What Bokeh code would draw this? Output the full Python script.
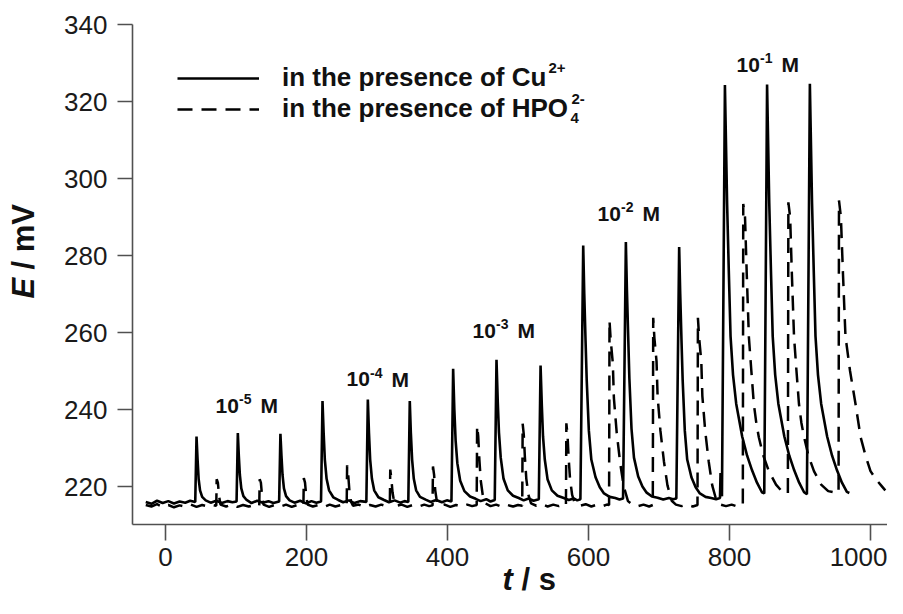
import math
from bokeh.plotting import figure
from bokeh.models import Range1d, FixedTicker, Legend, LegendItem, Label
from bokeh.embed import file_html
from bokeh.resources import INLINE
from bokeh.core.properties import value

FONT = "Liberation Sans"

# ---- data: t / s and E / mV ----
cu_t = [-28, -20, -12, -4, 4, 12, 20, 28, 35, 42.2,
        44, 45.5, 47, 49, 52, 57,
        64, 72, 80, 88, 95, 100.8,
        102.6, 104, 105.5, 107.5, 110.5, 115,
        122, 130, 138, 146, 153, 161.2,
        163, 164.5, 166, 168, 171, 176,
        183, 191, 199, 207, 214, 220.6,
        222.7, 224.3, 226, 228.5, 232, 238, 245,
        252, 260, 268, 276, 284.9,
        287, 288.6, 290.3, 292.8, 296, 302, 310,
        317, 325, 333, 339, 344.4,
        346.5, 348, 349.8, 352.2, 355.5, 361, 369,
        376, 384, 392, 399, 405.6,
        408, 409.7, 411.5, 414, 418, 424, 432, 440,
        447, 455, 461, 467,
        469.5, 471.3, 473, 475.5, 479.5, 485.5, 493, 501,
        508, 515, 522, 529.5,
        532, 533.8, 535.5, 538, 542, 548, 556, 565,
        572, 579, 584, 588.5,
        592.5, 594, 595.8, 597.5, 600.5, 604, 610, 616, 622, 630, 638, 644, 649,
        653, 654.5, 656.3, 658, 661, 664.5, 670.5, 676.5, 682.5, 690, 698, 706, 714, 720, 724.6,
        728.6, 730.1, 731.9, 733.6, 736.6, 740, 746, 752, 758, 766, 774, 781, 786.5, 787.3, 788.3, 789.3,
        793.5, 796.6, 799, 801.5, 805, 809.5, 818, 825, 832, 839, 846, 849.3,
        853.3, 856.4, 858.8, 861.3, 864.8, 869.3, 877.8, 884.8, 891.8, 898.8, 905.8, 909.8,
        914, 917.1, 919.5, 922, 925.5, 930, 938.5, 945.5, 952.5, 959.5, 966.5, 970]
cu_E = [216.0, 215.5, 216.3, 215.7, 216.2, 215.6, 216.1, 215.8, 216.3, 216.0,
        233.0, 227.0, 222.0, 219.0, 217.3, 216.4,
        215.8, 216.3, 215.7, 216.2, 215.9, 216.1,
        233.9, 228.0, 223.0, 219.5, 217.5, 216.5,
        215.7, 216.3, 215.8, 216.2, 215.7, 216.1,
        233.7, 228.0, 223.0, 219.5, 217.5, 216.4,
        215.8, 216.3, 215.6, 216.2, 215.8, 216.1,
        242.2, 234.0, 227.0, 222.0, 219.0, 217.2, 216.5,
        215.9, 216.4, 215.7, 216.2, 216.0,
        242.6, 234.0, 227.0, 222.0, 219.0, 217.2, 216.5,
        215.9, 216.4, 215.8, 216.2, 216.0,
        242.2, 234.0, 227.0, 222.0, 219.0, 217.3, 216.6,
        216.0, 216.5, 215.9, 216.4, 216.1,
        250.6, 240.0, 232.0, 226.0, 221.5, 218.8, 217.4, 216.8,
        216.2, 216.7, 216.1, 216.5,
        252.9, 242.0, 234.0, 227.5, 222.0, 219.0, 217.6, 217.0,
        216.4, 216.9, 216.3, 216.7,
        251.4, 241.0, 233.0, 227.0, 221.8, 219.0, 217.6, 217.0,
        216.5, 216.9, 216.4, 216.7,
        282.6, 270.0, 258.0, 247.5, 234.5, 227.0, 222.4, 219.8, 218.2, 217.3, 217.0, 216.6, 216.9,
        283.5, 271.0, 259.0, 248.0, 235.0, 227.5, 222.6, 220.0, 218.4, 217.4, 217.1, 216.6, 217.0, 216.7, 216.9,
        282.2, 270.0, 258.0, 247.5, 234.5, 227.0, 222.4, 219.8, 218.2, 217.3, 217.0, 216.7, 217.0, 223.5, 218.0, 217.5,
        324.3, 293.5, 276.0, 259.0, 249.0, 241.5, 233.0, 228.0, 224.2, 221.0, 218.5, 218.2,
        324.4, 293.5, 276.0, 259.0, 249.0, 241.5, 233.0, 228.0, 224.2, 221.0, 218.5, 218.0,
        324.6, 293.5, 276.0, 259.0, 249.0, 241.5, 233.0, 228.0, 224.2, 221.0, 218.6, 218.3]

hpo_t = [-28, -20, -12, -4, 4, 12, 20, 28, 36, 44, 52, 60, 67, 72,
         72.6, 74.3, 76, 78,
         86, 94, 102, 110, 118, 126, 133,
         133.6, 135.3, 137, 139,
         147, 155, 163, 171, 179, 187, 195.6,
         196.2, 197.9, 199.6, 201.6,
         209, 217, 225, 233, 241, 249, 257,
         257.6, 259.2, 260.8, 263.3, 266,
         274, 282, 290, 298, 306, 313, 318.2,
         318.8, 320.4, 322, 324.5, 327.5,
         335, 343, 351, 359, 367, 374, 378.8,
         379.4, 381, 382.6, 385, 388,
         396, 404, 412, 420, 428, 435, 441.4,
         442, 443.6, 445.2, 447.2, 450.2, 454,
         461, 469, 477, 485, 493, 500, 506,
         506.6, 508.2, 509.8, 511.8, 514.8, 518.5,
         526, 534, 542, 550, 558, 564, 568,
         568.6, 570.2, 571.8, 573.8, 576.8, 580.5,
         588, 596, 604, 612, 620, 626, 629.2,
         629.8, 631.5, 634.5, 636, 640, 645, 650, 656, 662,
         670, 678, 686, 691.2,
         691.8, 693.5, 696.5, 698, 702, 707, 712, 718, 724,
         732, 740, 748, 754.6,
         755.2, 757, 760, 761.5, 765.5, 770.5, 775.5, 781.5, 787.5,
         795, 803, 811, 818.9,
         819.5, 822, 824.5, 827.5, 831, 834.5, 838, 841.6, 848, 855.8, 866, 875, 882.8,
         883.5, 886, 888.5, 891.5, 895, 898.5, 902, 905.6, 912, 919.8, 930, 940, 948, 954.7,
         955.3, 958, 961, 964.5, 971, 978.7, 986, 993, 1000, 1008, 1015, 1021]
hpo_E = [215.2, 214.8, 215.4, 214.7, 215.2, 214.6, 215.1, 214.8, 215.3, 214.7, 215.2, 214.8, 215.2, 215.0,
         221.9, 221.0, 217.5, 215.3,
         214.8, 215.3, 214.7, 215.2, 214.8, 215.2, 215.0,
         221.9, 221.0, 217.5, 215.3,
         214.7, 215.2, 214.8, 215.3, 214.7, 215.2, 215.0,
         222.2, 221.0, 217.5, 215.3,
         214.8, 215.2, 214.7, 215.3, 214.8, 215.2, 215.0,
         225.5, 223.0, 219.0, 216.0, 215.0,
         215.3, 214.7, 215.2, 214.8, 215.3, 214.9, 215.1,
         224.4, 222.0, 218.5, 215.8, 215.0,
         215.3, 214.7, 215.2, 214.8, 215.3, 214.9, 215.1,
         225.2, 223.0, 219.0, 216.0, 215.0,
         215.3, 214.7, 215.2, 214.8, 215.3, 214.9, 215.2,
         235.7, 233.0, 227.0, 221.5, 217.5, 215.6,
         214.9, 215.3, 214.7, 215.2, 214.8, 215.2, 215.0,
         236.3, 233.5, 227.5, 222.0, 217.8, 215.6,
         215.0, 215.4, 214.8, 215.3, 214.9, 215.3, 215.0,
         236.4, 233.5, 227.5, 222.0, 217.8, 215.6,
         215.0, 215.4, 214.8, 215.3, 214.9, 215.3, 215.2,
         263.1, 258.0, 252.0, 243.0, 234.0, 226.0, 220.0, 216.2, 215.3,
         214.9, 215.3, 214.8, 215.2,
         263.8, 258.5, 252.5, 243.5, 234.5, 226.5, 220.3, 216.3, 215.3,
         214.9, 215.3, 214.8, 215.2,
         263.8, 258.5, 252.5, 243.5, 234.5, 226.5, 220.3, 216.3, 215.3,
         214.9, 215.3, 214.8, 215.3,
         293.4, 290.0, 275.0, 258.8, 250.0, 241.5, 236.5, 232.8, 228.0, 224.0, 220.5, 218.6, 218.2,
         293.8, 290.0, 275.0, 259.0, 250.0, 241.5, 236.5, 233.0, 228.0, 224.0, 220.5, 218.8, 218.5, 218.4,
         294.3, 290.0, 275.0, 259.0, 250.0, 241.5, 232.8, 228.0, 224.0, 221.8, 220.3, 219.0]

x_ticks = [0, 200, 400, 600, 800, 1000]
y_ticks = [220, 240, 260, 280, 300, 320, 340]

conc_base = ["10", "10", "10", "10", "10"]
conc_exp = ["-5", "-4", "-3", "-2", "-1"]
conc_unit = ["M", "M", "M", "M", "M"]
conc_t = [70.9, 256.7, 435.5, 612.8, 809.9]
conc_E = [239.2, 246.0, 258.7, 289.1, 327.8]

series_names = ["in the presence of Cu", "in the presence of HPO"]

W, H = 887, 598
SHIFT = 0.33  # renderer places the alphabetic baseline ~0.33 em low; compensate

# ---- helpers: canvas pixel -> data coordinates (used only to place texts / ranges) ----
def tx(px):
    return (px - 165.0) / 0.705

def ey(py):
    return 220.0 + (486.0 - py) / 3.85

X_AXIS_AT = ey(524)   # E value where the t axis sits (~210 mV)
Y_AXIS_AT = tx(132)   # t value where the E axis sits (~-47 s)

p = figure(width=W, height=H,
           x_range=Range1d(tx(0), tx(W)), y_range=Range1d(ey(H), ey(0)),
           output_backend="svg", toolbar_location=None,
           min_border_left=0, min_border_right=0,
           min_border_top=0, min_border_bottom=0)
p.outline_line_color = None
p.xgrid.grid_line_color = None
p.ygrid.grid_line_color = None
p.background_fill_color = "white"
p.border_fill_color = "white"

p.xaxis.fixed_location = X_AXIS_AT
p.xaxis.bounds = (Y_AXIS_AT, tx(W))
p.yaxis.fixed_location = Y_AXIS_AT
p.yaxis.bounds = (X_AXIS_AT, 340)

for ax, ticks, tick_len, standoff in ((p.xaxis, x_ticks, 16, 7), (p.yaxis, y_ticks, 15, 10)):
    ax.ticker = FixedTicker(ticks=ticks)
    ax.minor_tick_line_color = None
    ax.major_tick_in = 0
    ax.major_tick_out = tick_len
    ax.axis_line_color = "#505050"
    ax.axis_line_width = 1.6
    ax.major_tick_line_color = "#505050"
    ax.major_tick_line_width = 1.6
    ax.major_label_text_font = FONT
    ax.major_label_text_font_size = "26px"
    ax.major_label_text_color = "#1a1a1a"
    ax.major_label_standoff = standoff

r_hpo = p.line(hpo_t, hpo_E, line_color="black", line_width=2.5, line_dash="15 9")
r_cu = p.line(cu_t, cu_E, line_color="black", line_width=2.6)

legend = Legend(items=[LegendItem(label=series_names[0], renderers=[r_cu]),
                       LegendItem(label=series_names[1], renderers=[r_hpo])],
                location=(177, 474), glyph_width=82, glyph_height=24,
                label_standoff=23, label_height=24, spacing=0,
                padding=0, margin=0, border_line_color=None,
                background_fill_alpha=0,
                label_text_font=FONT, label_text_font_size="26px",
                label_text_font_style="bold", label_text_color="#111111")
p.add_layout(legend)

# legend super/subscripts
for txt, px, py in (("2+", 548, 72), ("4", 570, 122), ("2-", 571, 103)):
    p.add_layout(Label(x=tx(px), y=ey(py - SHIFT * 15), text=txt, text_font=FONT,
                       text_font_size="15px", text_font_style="bold",
                       text_color="#111111", text_baseline="alphabetic"))

# concentration annotations
p.text(x=conc_t, y=conc_E, text=conc_base, text_font=value(FONT),
       text_font_size="21px", text_font_style="bold", text_color="#111111",
       text_baseline="alphabetic", text_align="left", y_offset=-SHIFT * 21)
p.text(x=conc_t, y=conc_E, text=conc_exp, text_font=value(FONT),
       text_font_size="14px", text_font_style="bold", text_color="#111111",
       text_baseline="alphabetic", text_align="left", x_offset=23.5,
       y_offset=-9 - SHIFT * 14)
p.text(x=conc_t, y=conc_E, text=conc_unit, text_font=value(FONT),
       text_font_size="21px", text_font_style="bold", text_color="#111111",
       text_baseline="alphabetic", text_align="left", x_offset=45,
       y_offset=-SHIFT * 21)

# axis titles
d = SHIFT * 31
for txt, px, py, style, ang in (("E", 33 - d, 298, "bold italic", math.pi / 2),
                                ("/ mV", 33 - d, 269, "bold", math.pi / 2),
                                ("t", 502, 589 - d, "bold italic", 0),
                                ("/ s", 521, 589 - d, "bold", 0)):
    p.add_layout(Label(x=tx(px), y=ey(py), text=txt, angle=ang, text_font=FONT,
                       text_font_size="31px", text_font_style=style,
                       text_color="#111111", text_baseline="alphabetic",
                       text_align="left"))

open("out.html", "w").write(file_html(p, INLINE))
